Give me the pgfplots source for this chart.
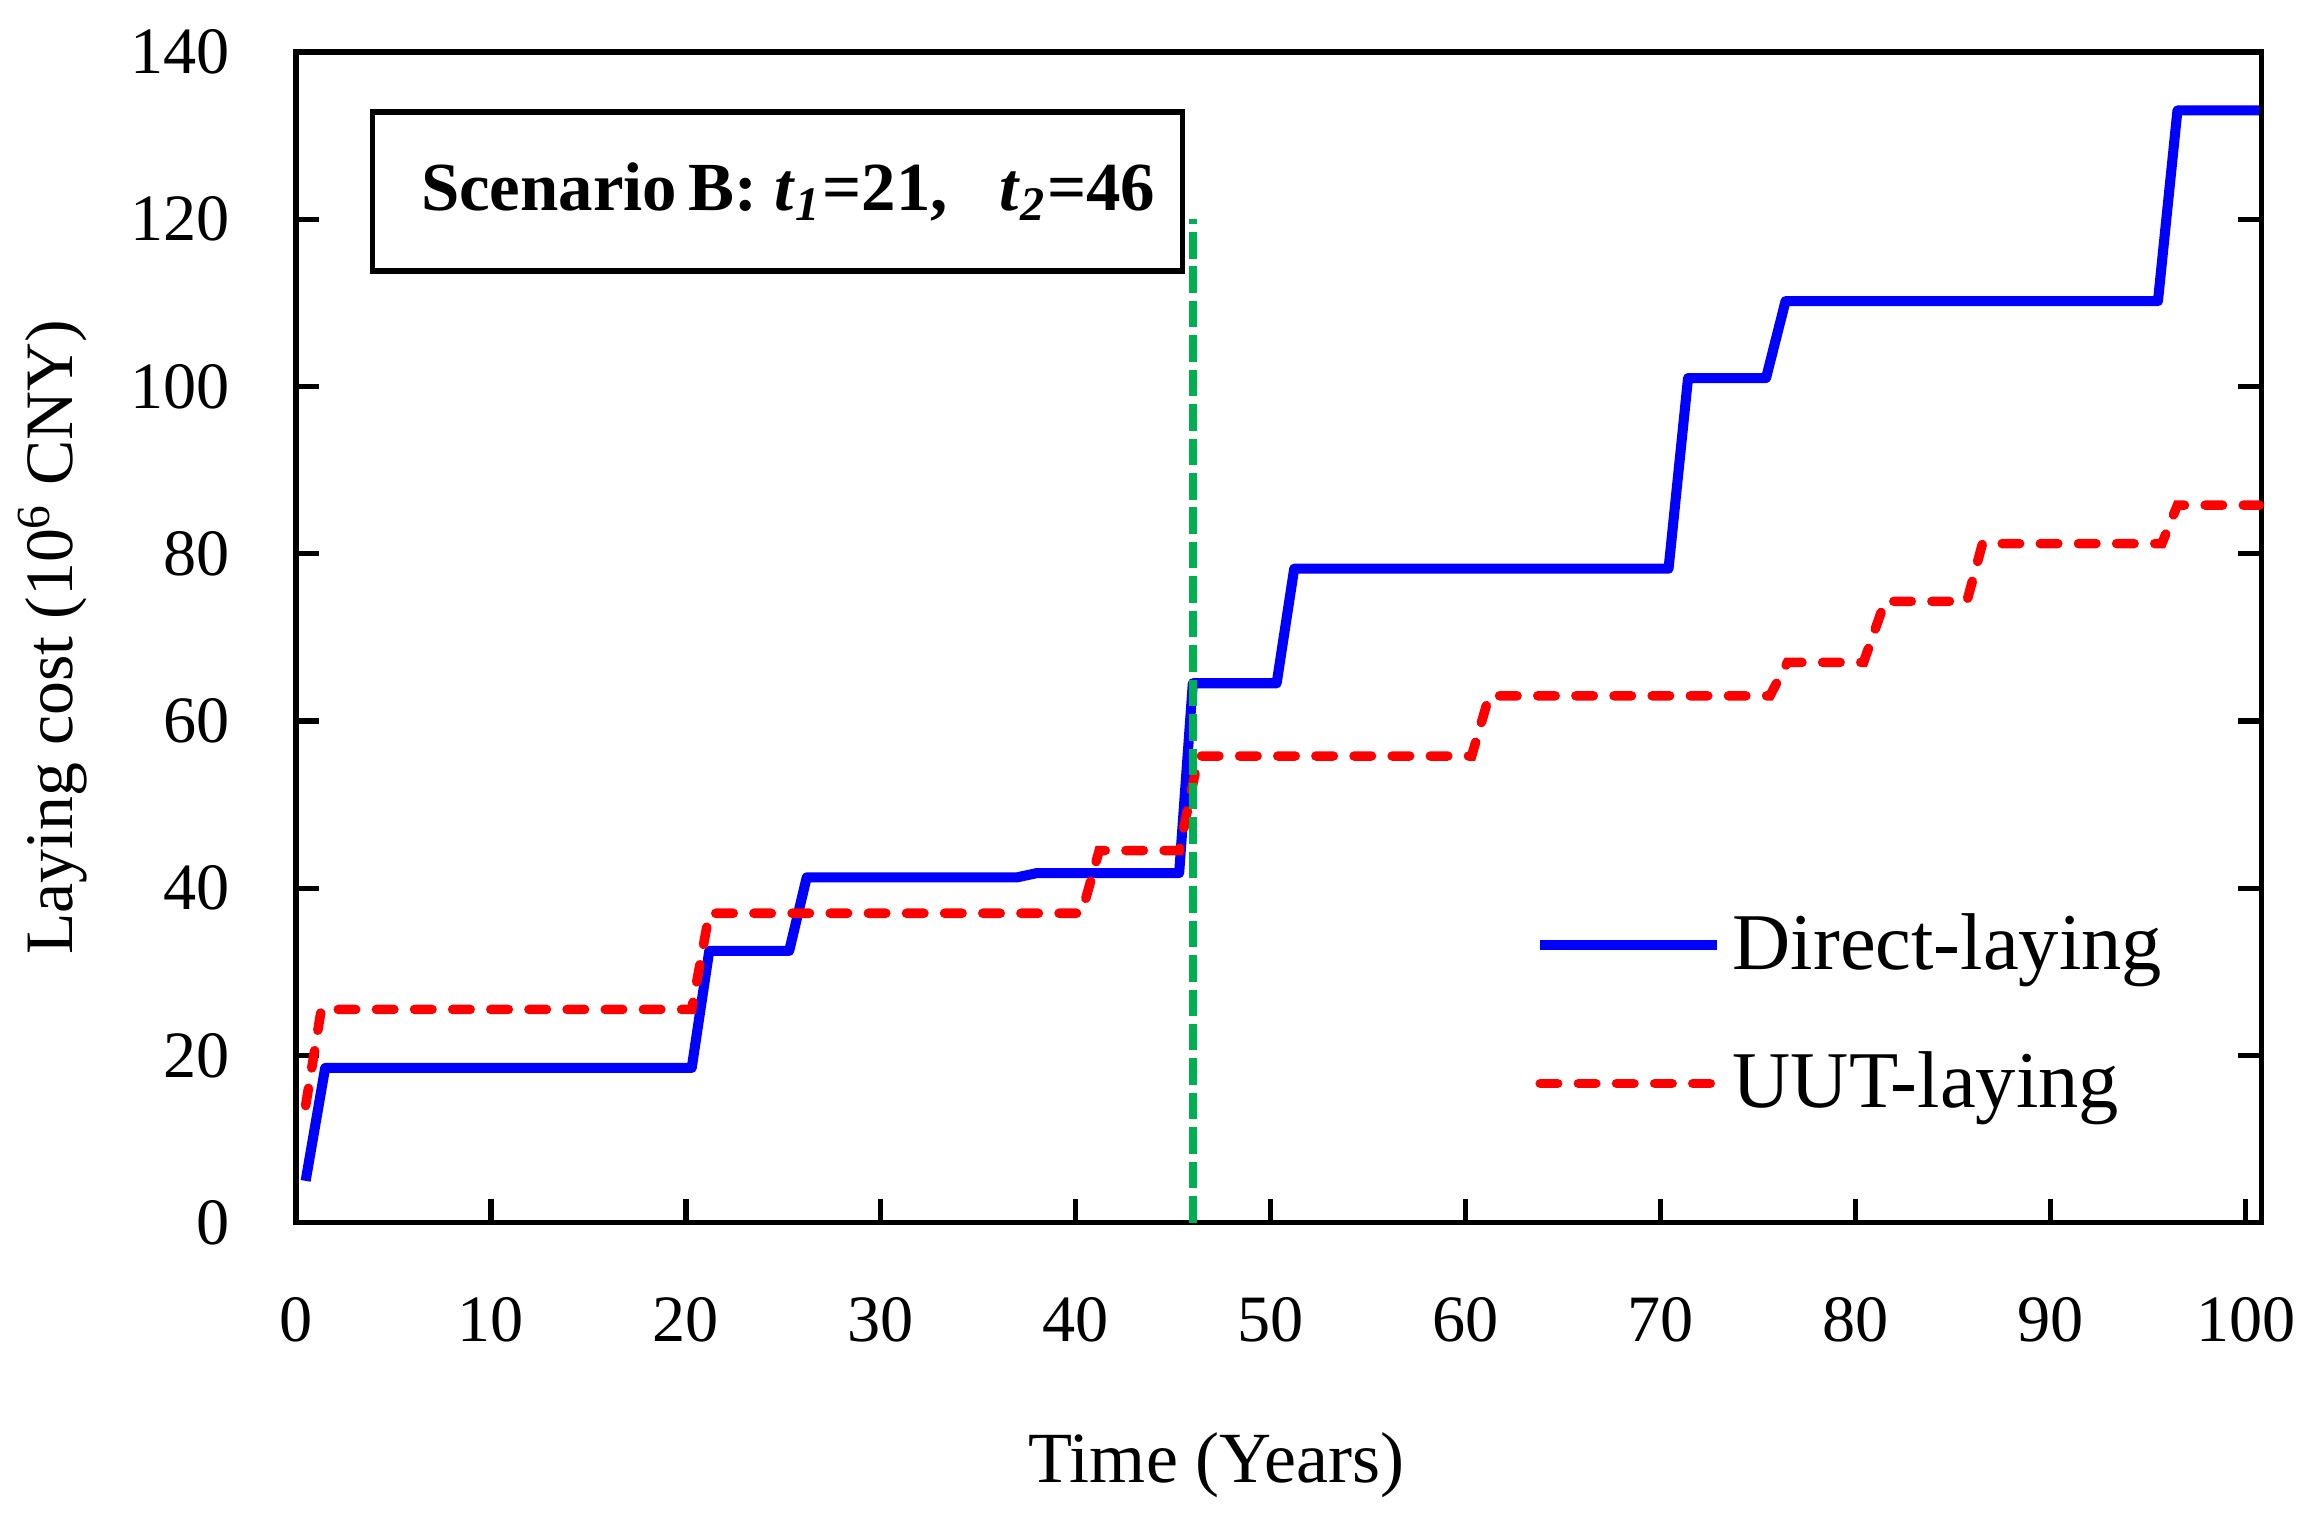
\documentclass[border=0pt]{standalone}
\usepackage{fontspec}
\setmainfont{Liberation Serif}
\usepackage{pgfplots}
\pgfplotsset{compat=1.18}
\definecolor{dirblue}{RGB}{0,0,255}
\definecolor{uutred}{RGB}{255,0,0}
\definecolor{tgreen}{RGB}{0,176,80}

\begin{document}
\begin{tikzpicture}
\begin{axis}[
    width=371pt, height=221pt, scale only axis,
    xmin=0, xmax=100.8, ymin=0, ymax=140,
    xtick={0,10,...,100}, ytick={0,20,...,140},
    xtick pos=bottom, ytick pos=both,
    tick align=inside, major tick length=4.4pt,
    axis line style={line width=1pt},
    every tick/.style={black, line width=1pt},
    /pgf/number format/assume math mode=true,
    tick label style={font=\fontsize{12.5}{14}\selectfont},
    xticklabel style={yshift=-10.5pt},
    yticklabel style={xshift=-9pt},
    xlabel={Time (Years)}, ylabel={Laying cost (10\textsuperscript{6} CNY)},
    ylabel style={font=\fontsize{12.8}{15}\selectfont,
        at={(axis description cs:0,0.5)}, anchor=center, yshift=46pt},
    xlabel style={font=\fontsize{13.6}{15}\selectfont,
        at={(axis description cs:0.5,0)}, anchor=center,
        yshift=-45.7pt, xshift=-11.7pt},
    legend style={at={(rel axis cs:0.630,0.274)}, anchor=north west,
        draw=none, fill=none, inner sep=0pt, row sep=10pt,
        font=\fontsize{15.2}{17}\selectfont},
    legend cell align=left,
    legend image code/.code={\draw[#1] (0pt,0pt) -- (33.4pt,0pt);},
    clip=false,
]
% direct laying
\addplot[dirblue, line width=1.9pt, line join=round] coordinates {
    (0.5,5) (1.5,18.5) (20.3,18.5) (21.2,32.5) (25.3,32.5) (26.2,41.3)
    (37,41.3) (38,41.8) (45.3,41.8) (46,64.5) (50.3,64.5) (51.2,78.2)
    (70.4,78.2) (71.4,101) (75.4,101) (76.4,110.2) (95.5,110.2) (96.5,133)
    (100.7,133)
};
\addlegendentry{Direct-laying}
% UUT laying
\addplot[uutred, line width=1.8pt, line cap=round, dash pattern=on 3.3pt off 3.9pt]
    coordinates {
    (0.5,14) (1.3,25.5) (20.3,25.5) (21.2,37) (40.3,37) (41.2,44.5)
    (45.3,44.5) (46.3,55.8) (60.3,55.8) (61.2,63) (75.6,63) (76.5,67)
    (80.4,67) (81.5,74.3) (85.7,74.3) (86.5,81.2) (95.7,81.2) (96.5,85.8)
    (100.7,85.8)
};
\addlegendentry{UUT-laying}
\addplot[tgreen, line width=1.5pt, dash pattern=on 5pt off 1.5pt, forget plot]
    coordinates {(46,0) (46,120)};
\node[draw, line width=1pt, minimum width=153pt, minimum height=30pt,
      font=\bfseries\fontsize{13}{15}\selectfont, fill=white]
    at (axis cs:24.7,123.3)
    {\hspace*{4pt}Scenario\,B: \textit{t}\textsubscript{\textit{1}}=21,\ \ \ \textit{t}\textsubscript{\textit{2}}=46};
\path (rel axis cs:0,1) ++(0,9.8pt) coordinate (topedge);
\path (rel axis cs:0,0) ++(0,-53.7pt) coordinate (botedge);
\end{axis}
\end{tikzpicture}
\end{document}
